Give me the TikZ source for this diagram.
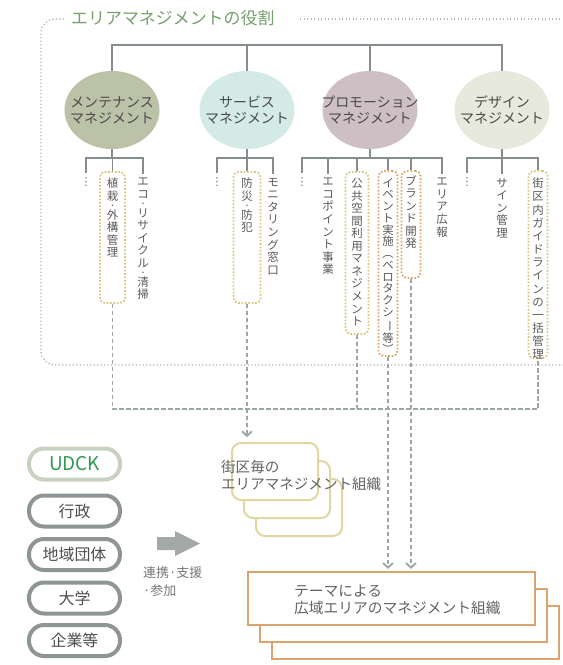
\documentclass[tikz,border=0pt]{standalone}
\usepackage{fontspec}
\usepackage{graphicx}
\setmainfont{Noto Sans CJK JP}
\usetikzlibrary{shapes.geometric,arrows.meta}
\definecolor{treegray}{HTML}{868E8C}
\definecolor{dashgray}{HTML}{9CA6A3}
\definecolor{bordergray}{HTML}{B2B6B4}
\definecolor{titlegreen}{HTML}{76A06C}
\definecolor{c1fill}{HTML}{BCC2A8}
\definecolor{c2fill}{HTML}{D3EAE7}
\definecolor{c3fill}{HTML}{CDBFC3}
\definecolor{c4fill}{HTML}{E7E9DC}
\definecolor{circtext}{HTML}{4A4A4A}
\definecolor{vtext}{HTML}{5A5A5A}
\definecolor{doty}{HTML}{D8C47A}
\definecolor{doto}{HTML}{DDA468}
\definecolor{sboxc}{HTML}{E0D7A3}
\definecolor{bboxc}{HTML}{D9A470}
\definecolor{pillgray}{HTML}{8E9592}
\definecolor{udckborder}{HTML}{C9D1C0}
\definecolor{udcktext}{HTML}{2F9A52}
\definecolor{pilltext}{HTML}{4E4E4E}
\definecolor{arrgray}{HTML}{A3A9A6}
\definecolor{midtext}{HTML}{777777}
\definecolor{boxtext}{HTML}{636363}
% half-height middle dot line for vertical text
\newcommand\mydot{\\[-4.6bp]{\fontsize{7}{7}\selectfont ・}\\[-1.6bp]}
% vertical forms
\newcommand\vbar{\rotatebox[origin=c]{-90}{ー}}
\newcommand\vlp{\rotatebox[origin=c]{-90}{（}}
\newcommand\vrp{\rotatebox[origin=c]{-90}{）}}
\newcommand\vell{\rotatebox[origin=c]{90}{…}}
\begin{document}
\begin{tikzpicture}[x=1bp,y=-1bp,
  tree/.style={draw=treegray,line width=1.8bp},
  dconn/.style={draw=dashgray,line width=1.8bp,dash pattern=on 4.5bp off 2.5bp},
  tipped/.style={-{Straight Barb[length=4.5bp,width=10bp]}},
  border/.style={draw=bordergray,line width=1.3bp,dash pattern=on 1.3bp off 2.2bp},
  circ/.style={ellipse,minimum width=95bp,minimum height=78bp,inner sep=0},
  ctext/.style={align=center,inner sep=0,text=circtext,font=\fontsize{14}{16}\selectfont},
  dbox/.style={draw=doty,rounded corners=5bp,line width=1.8bp,dash pattern=on 1.6bp off 1.8bp,inner sep=0},
  obox/.style={dbox,draw=doto},
  vt/.style={anchor=north,align=center,inner sep=0,text=vtext,font={\fontsize{11.5}{12.6}\selectfont}},
  ell/.style={anchor=north,inner sep=0,text=vtext,font={\fontsize{10}{10}\selectfont}},
  pill/.style={draw=pillgray,line width=4bp,rounded corners=15bp,minimum width=91bp,minimum height=31bp,fill=white,inner sep=0,text=pilltext,font=\fontsize{16}{18}\selectfont},
  sbox/.style={draw=sboxc,line width=2bp,rounded corners=9bp,fill=white,minimum width=86bp,minimum height=57bp,inner sep=0},
  bbox/.style={draw=bboxc,line width=2.5bp,fill=white,minimum width=287bp,minimum height=53bp,inner sep=0}
]
\useasboundingbox (0,0) rectangle (563,665);
\fill[white] (0,0) rectangle (563,665);

% outer dotted frame and title
\node[anchor=west,inner sep=0,text=titlegreen,font=\fontsize{17}{19}\selectfont] (title) at (71,18) {エリアマネジメントの役割};
\draw[border,rounded corners=14bp] (64,19) -- (41,19) -- (41,365) -- (563,365);
\draw[border] (300,19) -- (563,19);

% circles
\node[circ,fill=c1fill] (c1) at (112,110) {};
\node[circ,fill=c2fill] (c2) at (247,110) {};
\node[circ,fill=c3fill] (c3) at (370,110) {};
\node[circ,fill=c4fill] (c4) at (502,110) {};
\node[ctext] (c1t) at (c1) {メンテナンス\\マネジメント};
\node[ctext] (c2t) at (c2) {サービス\\マネジメント};
\node[ctext] (c3t) at (c3) {プロモーション\\マネジメント};
\node[ctext] (c4t) at (c4) {デザイン\\マネジメント};

\coordinate (tt) at (0,45);
\draw[tree] (c1.north) -- (c1.north |- tt) -- (c4.north |- tt) -- (c4.north);
\draw[tree] (c2.north) -- (c2.north |- tt);
\draw[tree] (c3.north) -- (c3.north |- tt);

\coordinate (kk) at (0,158);

% column group 1
\node[dbox,minimum width=25bp,minimum height=131bp] (b1) at (112.5,237.5) {};
\node[ell] (e1) at (86,177) {\vell};
\node[vt] (t11) at (112.5,178) {植\\栽\mydot 外\\構\\管\\理};
\node[vt] (t12) at (143,178) {エ\\コ\mydot リ\\サ\\イ\\ク\\ル\mydot 清\\掃};
\draw[tree] (c1.south) -- (c1.south |- kk);
\draw[tree] ([yshift=4bp]e1.north) -- (e1.north |- kk) -- (t12.north |- kk) -- ([yshift=4bp]t12.north);
\draw[tree] (b1.north) -- (b1.north |- kk);

% column group 2
\node[dbox,minimum width=27bp,minimum height=131bp] (b2) at (247,237.5) {};
\node[ell] (e2) at (217,177) {\vell};
\node[vt] (t21) at (247,178) {防\\災\mydot 防\\犯};
\node[vt] (t22) at (273,178) {モ\\ニ\\タ\\リ\\ン\\グ\\窓\\口};
\draw[tree] (c2.south) -- (c2.south |- kk);
\draw[tree] ([yshift=4bp]e2.north) -- (e2.north |- kk) -- (t22.north |- kk) -- ([yshift=4bp]t22.north);
\draw[tree] (b2.north) -- (b2.north |- kk);

% column group 3
\node[dbox,minimum width=23bp,minimum height=162bp] (b3) at (357,253) {};
\node[obox,minimum width=19bp,minimum height=185bp] (b4) at (388,263.5) {};
\node[obox,minimum width=19bp,minimum height=107bp] (b5) at (411,224.5) {};
\node[ell] (e3) at (302,177) {\vell};
\node[vt] (t31) at (328,178) {エ\\コ\\ポ\\イ\\ン\\ト\\事\\業};
\node[vt] (t32) at (357,178) {公\\共\\空\\間\\利\\用\\マ\\ネ\\ジ\\メ\\ン\\ト};
\node[vt,font={\fontsize{11.5}{11.8}\selectfont}] (t33) at (388,178) {イ\\ベ\\ン\\ト\\実\\施\\\vlp\\ベ\\ロ\\タ\\ク\\シ\\\vbar\\等\\\vrp};
\node[vt] (t34) at (411,175) {ブ\\ラ\\ン\\ド\\開\\発};
\node[vt] (t35) at (442,178) {エ\\リ\\ア\\広\\報};
\draw[tree] (c3.south) -- (c3.south |- kk);
\draw[tree] ([yshift=4bp]e3.north) -- (e3.north |- kk) -- (t35.north |- kk) -- ([yshift=4bp]t35.north);
\draw[tree] ([yshift=4bp]t31.north) -- (t31.north |- kk);
\draw[tree] (b3.north) -- (b3.north |- kk);
\draw[tree] (b4.north) -- (b4.north |- kk);
\draw[tree] (b5.north) -- (b5.north |- kk);

% column group 4
\node[dbox,minimum width=19bp,minimum height=187bp] (b6) at (538,264.5) {};
\node[ell] (e4) at (467,177) {\vell};
\node[vt] (t41) at (502,178) {サ\\イ\\ン\\管\\理};
\node[vt,font={\fontsize{11.5}{13.2}\selectfont}] (t42) at (538,178) {街\\区\\内\\ガ\\イ\\ド\\ラ\\イ\\ン\\の\\一\\括\\管\\理};
\draw[tree] (c4.south) -- (c4.south |- kk);
\draw[tree] ([yshift=4bp]e4.north) -- (e4.north |- kk) -- (b6.north |- kk) -- (b6.north);
\draw[tree] ([yshift=4bp]t41.north) -- (t41.north |- kk);

% organisation boxes
\node[sbox] (s3) at (299,507.5) {};
\node[sbox] (s2) at (287,489.5) {};
\node[sbox] (s1) at (275,471.5) {};
\node[anchor=west,align=left,inner sep=0,text=boxtext,font=\fontsize{14.6}{17}\selectfont] (st) at (221,475.5) {街区毎の\\エリアマネジメント組織};

\node[bbox] (g3) at (415.5,632.5) {};
\node[bbox] (g2) at (403.5,615.5) {};
\node[bbox] (g1) at (391.5,598.5) {};
\node[anchor=west,align=left,inner sep=0,text=boxtext,font=\fontsize{14.8}{16.5}\selectfont] (gt) at (294,600) {テーマによる\\広域エリアのマネジメント組織};

% dashed connectors
\coordinate (hh) at (0,409);
\draw[dconn] (b1.south) -- (b1.south |- hh) -- (b6.south |- hh) -- (b6.south);
\draw[dconn] (b3.south) -- (b3.south |- hh);
\draw[dconn,tipped,shorten >=5bp] (b2.south) -- (b2.south |- s1.north);
\draw[dconn,tipped,shorten >=2bp] (b4.south) -- (b4.south |- g1.north);
\draw[dconn,tipped,shorten >=2bp] (b5.south) -- (b5.south |- g1.north);

% actors
\node[pill,draw=udckborder,text=udcktext,font=\fontsize{19}{20}\selectfont] (p0) at (74.5,464) {UDCK};
\node[pill] (p1) at (74.5,511) {行政};
\node[pill] (p2) at (74.5,554.5) {地域団体};
\node[pill] (p3) at (74.5,598) {大学};
\node[pill] (p4) at (74.5,640.5) {企業等};

\fill[arrgray] (157,537) -- (175,537) -- (175,531) -- (200,543.5) -- (175,556) -- (175,550) -- (157,550) -- cycle;
\node[anchor=north west,align=left,inner sep=0,text=midtext,font=\fontsize{13}{18}\selectfont] (lbl) at (143,566) {連携·支援\\·参加};
\end{tikzpicture}
\end{document}
